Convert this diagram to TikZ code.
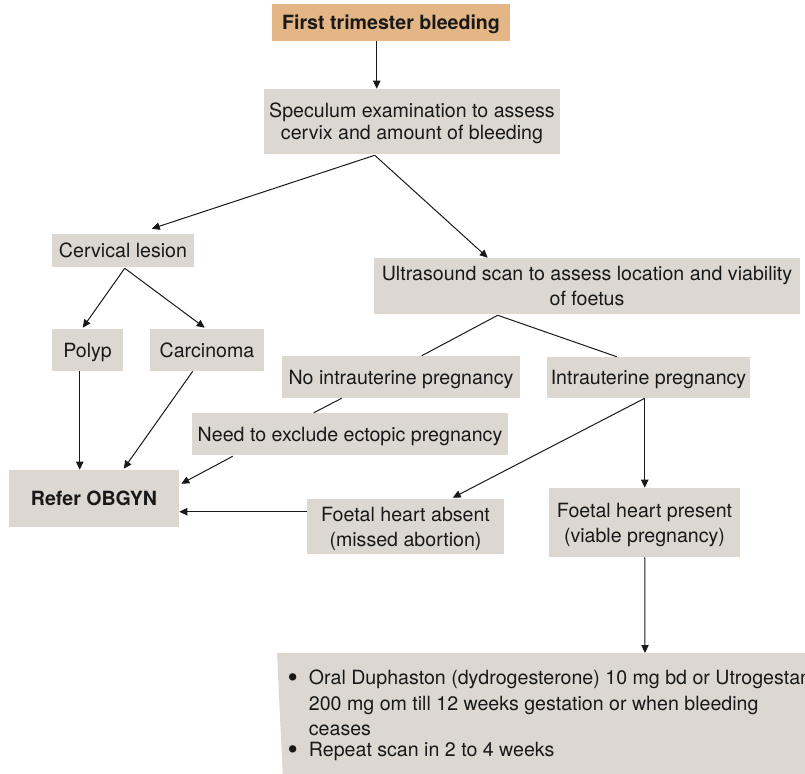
\documentclass[tikz,border=0pt]{standalone}
\usepackage{fontspec}
\setmainfont{TeX Gyre Heros}
\usetikzlibrary{arrows.meta,calc}
\definecolor{boxgrey}{RGB}{220,216,209}
\definecolor{boxtan}{RGB}{228,181,133}
\definecolor{ink}{RGB}{25,25,25}
\newcommand{\bigbullet}{\makebox[17pt][l]{\hspace{1pt}\raisebox{-2.3pt}{\scalebox{1.5}{\textbullet}}}}
\begin{document}
\begin{tikzpicture}[x=0.75pt,y=-0.75pt,
  txt/.style={font=\fontsize{14.7}{18.75}\selectfont},
  box/.style={txt, fill=boxgrey, inner sep=0pt, align=center, text=ink, text depth=0pt},
  link/.style={line width=0.75pt, draw=ink},
  arr/.style={link, -{Triangle[length=6pt,width=5.5pt]}}]
\clip (0,0) rectangle (805,773);

% boxes
\node[box, fill=boxtan, minimum width=178.5pt, minimum height=27.75pt,
      font=\bfseries\fontsize{14.7}{18.75}\selectfont] (first) at (391,22.5) {First trimester bleeding};
\node[box, minimum width=222pt, minimum height=48.75pt,
      font=\fontsize{14.7}{16.5}\selectfont] (spec) at (412,121.5)
  {Speculum examination to assess\\cervix and amount of bleeding};
\node[box, minimum width=106.5pt, minimum height=24.75pt] (cerv) at (123,250.5) {Cervical lesion};
\node[box, minimum width=319.5pt, minimum height=42pt] (us) at (587,286)
  {Ultrasound scan to assess location and viability\\of foetus};
\node[box, minimum width=53.25pt, minimum height=31.5pt] (polyp) at (87.5,350) {Polyp};
\node[box, minimum width=85.5pt, minimum height=31.5pt] (carc) at (207,350) {Carcinoma};
\node[box, minimum width=178.5pt, minimum height=31.5pt] (noiup) at (401,377) {No intrauterine pregnancy};
\node[box, minimum width=152.25pt, minimum height=30.75pt] (iup) at (648.5,377.5) {Intrauterine pregnancy};
\node[box, minimum width=237pt, minimum height=31.5pt] (need) at (350,434) {Need to exclude ectopic pregnancy};
\node[box, minimum width=127.5pt, minimum height=42.75pt,
      font=\bfseries\fontsize{14.7}{18.75}\selectfont] (refer) at (94,498.5) {Refer OBGYN};
\node[box, minimum width=147.75pt, minimum height=41.25pt] (absent) at (405.5,526.5)
  {Foetal heart absent\\(missed abortion)};
\node[box, minimum width=143.25pt, minimum height=51.75pt] (present) at (644.5,522.5)
  {Foetal heart present\\(viable pregnancy)};

% treatment panel, running off the page edge
\fill[boxgrey] (277,653) -- (810,653) -- (810,780) -- (283,780) -- cycle;
\coordinate (treat) at (645,653);
\node[txt, anchor=north west, inner sep=0pt, align=left, text=ink,
      font=\fontsize{14.7}{19}\selectfont] (treattext) at (286,670)
  {\bigbullet Oral Duphaston (dydrogesterone) 10 mg bd or Utrogestan\\
   \hspace*{17pt}200 mg om till 12 weeks gestation or when bleeding\\
   \hspace*{17pt}ceases\\[-3pt]
   \bigbullet Repeat scan in 2 to 4 weeks};

% connectors
\coordinate (f1) at ($(first.south west)+(105,0)$);
\draw[arr] (f1) -- (f1 |- spec.north);

\coordinate (s1) at ($(spec.south west)+(111,1)$);
\draw[arr] (s1) -- ($(cerv.north west)+(100,-5)$);
\draw[arr] (s1) -- ($(us.north west)+(114,0)$);

\coordinate (c1) at ($(cerv.south west)+(73,1)$);
\draw[arr] (c1) -- ($(polyp.north west)+(31,-1)$);
\draw[arr] (c1) -- ($(carc.north west)+(55,-1)$);

\coordinate (p1) at ($(polyp.south west)+(28,0)$);
\draw[arr] (p1) -- (p1 |- refer.north);
\draw[arr] ($(carc.south west)+(43,0)$) -- ($(refer.north west)+(115,-1)$);
\draw[arr] ($(need.south west)+(41,1)$) -- ($(refer.north east)+(2,14)$);

\coordinate (a1) at ($(absent.north west)+(0,13)$);
\draw[arr] (a1) -- (a1 -| refer.east);

\coordinate (u1) at ($(us.south west)+(124,1)$);
\draw[link] (u1) -- ($(noiup.north west)+(140,0)$);
\draw[link] (u1) -- ($(iup.north west)+(70,0)$);
\draw[link] ($(noiup.south west)+(60,0)$) -- ($(need.north west)+(122,0)$);

\coordinate (i1) at ($(iup.south west)+(98,0)$);
\draw[arr] (i1) -- ($(absent.north west)+(146,-1)$);
\draw[arr] (i1) -- (i1 |- present.north);

\coordinate (pr1) at ($(present.south west)+(96,0)$);
\draw[arr] (pr1) -- (treat);
\end{tikzpicture}
\end{document}
